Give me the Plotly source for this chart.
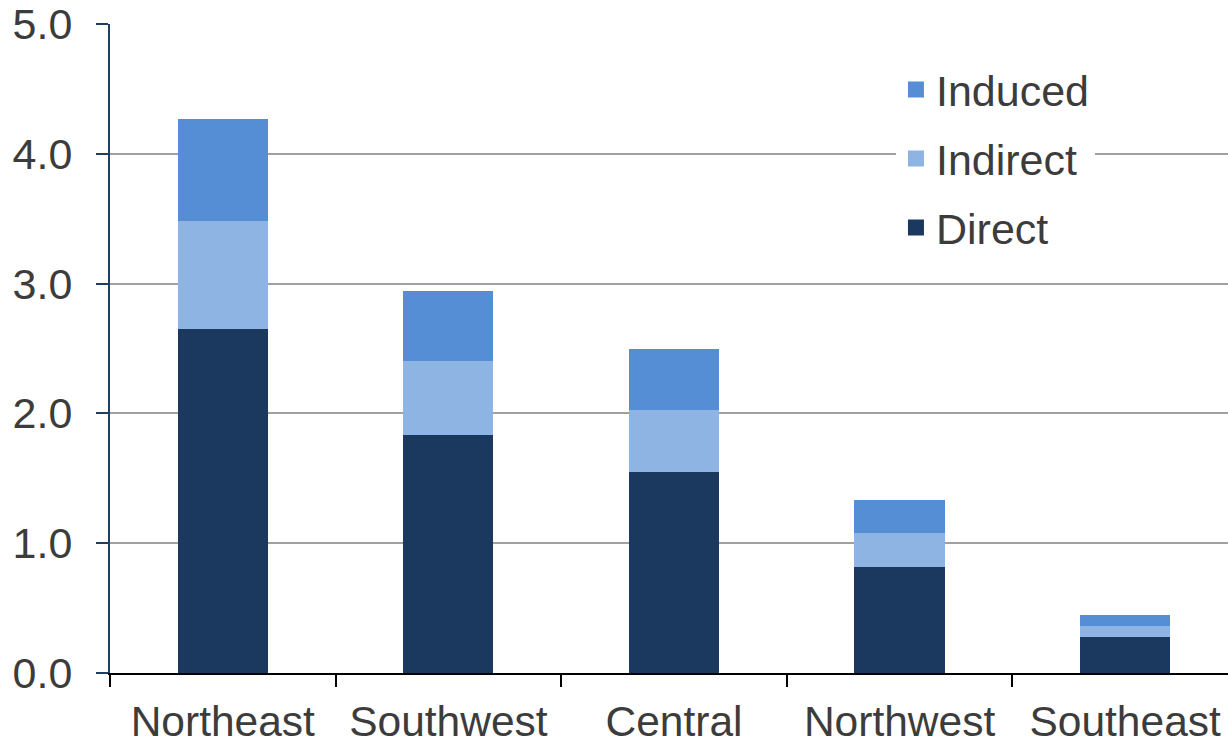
import plotly.graph_objects as go

regions = ["Northeast", "Southwest", "Central", "Northwest", "Southeast"]
direct = [2.65, 1.83, 1.55, 0.82, 0.28]
indirect = [0.83, 0.57, 0.48, 0.26, 0.08]
induced = [0.79, 0.54, 0.47, 0.25, 0.09]

series_names = ["Direct", "Indirect", "Induced"]
series_vals = [direct, indirect, induced]
colors = ["#1B385F", "#8EB4E3", "#558ED5"]

FONT = "Liberation Sans, Arial, sans-serif"
TXT = "#3c3c3c"

fig = go.Figure()
for name, vals, c in zip(series_names, series_vals, colors):
    fig.add_trace(go.Bar(x=regions, y=vals, name=name, marker=dict(color=c, line=dict(width=0)),
                         width=0.4, showlegend=False))
# legend entries (top to bottom: Induced, Indirect, Direct)
for name, c in reversed(list(zip(series_names, colors))):
    fig.add_trace(go.Scatter(x=[None], y=[None], mode="markers", name=name,
                             marker=dict(symbol="square", size=16, color=c),
                             legendgroup=name, showlegend=True))

fig.update_layout(
    barmode="stack",
    width=1228, height=746,
    margin=dict(l=110, r=0, t=24, b=73),
    paper_bgcolor="white", plot_bgcolor="white",
    font=dict(family=FONT, size=42, color=TXT),
    legend=dict(x=0.703, xanchor="left", y=0.952, yanchor="top",
                bgcolor="white", traceorder="grouped", tracegroupgap=10,
                itemsizing="trace", font=dict(size=43, color=TXT)),
    xaxis=dict(type="category", range=[-0.5, 4.456], showline=True, linecolor="black", linewidth=2,
               ticks="outside", tickson="boundaries", ticklen=12, tickwidth=2, tickcolor="black",
               showgrid=False, tickfont=dict(size=42.5, color=TXT), ticklabelstandoff=10),
    yaxis=dict(range=[0, 5], dtick=1, tickformat=".1f", showline=True, linecolor="#1F3F60", linewidth=2,
               ticks="outside", ticklen=12, tickwidth=2, tickcolor="#1F3F60",
               showgrid=True, gridcolor="#A0A0A0", gridwidth=1.5, zeroline=False,
               tickfont=dict(size=43, color=TXT), ticklabelstandoff=15),
)

fig.write_html("out.html")
